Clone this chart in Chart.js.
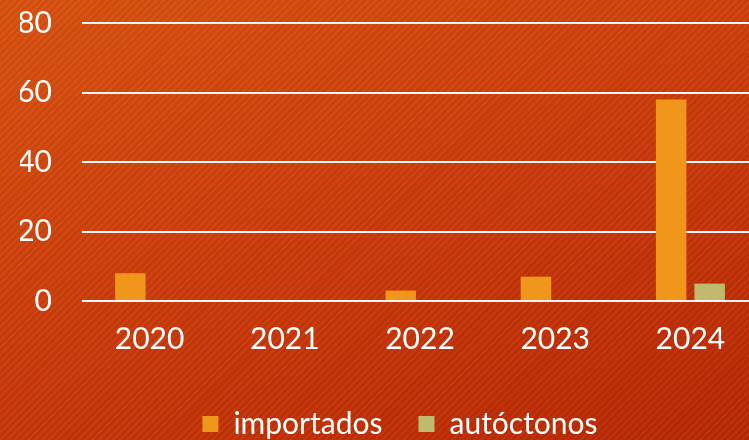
<!DOCTYPE html>
<html><head><meta charset="utf-8">
<script src="https://cdn.jsdelivr.net/npm/chart.js@4"></script>
<style>
html,body{margin:0;padding:0;width:749px;height:440px;overflow:hidden;}
body{background:
 repeating-linear-gradient(135deg, rgba(255,255,255,0.035) 0px, rgba(255,255,255,0.035) 2px, rgba(0,0,0,0.03) 2px, rgba(0,0,0,0.03) 5px),
 linear-gradient(160deg, #d9520f 0%, #c9390a 55%, #b82804 100%);}
#wrap{position:absolute;left:0;top:-25px;width:800px;height:474px;}
</style></head>
<body>
<div id="wrap"><canvas id="c"></canvas></div>
<script>
const categories = ['2020','2021','2022','2023','2024'];
const importados = [8, 0, 3, 7, 58];
const autoctonos = [0, 0, 0, 0, 5];
const yTicks = [0, 20, 40, 60, 80];

Chart.defaults.font.family = 'Lato, "Open Sans", sans-serif';
Chart.defaults.color = '#ffffff';

new Chart(document.getElementById('c'), {
  type: 'bar',
  data: {
    labels: categories,
    datasets: [
      { label: 'importados', data: importados, backgroundColor: '#f0961a', borderWidth: 0,
        categoryPercentage: 0.57, barPercentage: 0.79 },
      { label: 'autóctonos', data: autoctonos, backgroundColor: '#bfba6e', borderWidth: 0,
        categoryPercentage: 0.57, barPercentage: 0.79 }
    ]
  },
  options: {
    responsive: true,
    maintainAspectRatio: false,
    animation: false,
    layout: { padding: { left: 20, right: 20, top: 0, bottom: 0 } },
    plugins: {
      tooltip: { enabled: false },
      title: { display: false },
      legend: {
        position: 'bottom',
        align: 'center',
        labels: {
          color: '#ffffff',
          font: { size: 30 },
          boxWidth: 16, boxHeight: 16,
          padding: 36
        }
      }
    },
    scales: {
      x: {
        grid: { display: false, drawTicks: false },
        border: { display: false },
        ticks: { color: '#ffffff', font: { size: 30 }, padding: 20 },
        afterFit: (s) => { s.height = 72; }
      },
      y: {
        min: 0, max: 80,
        afterBuildTicks: (s) => { s.ticks = yTicks.map(v => ({ value: v })); },
        grid: { color: 'rgba(255,255,255,0.95)', lineWidth: 2, drawTicks: false },
        border: { display: false },
        ticks: { color: '#ffffff', font: { size: 30 }, padding: 30 },
        afterFit: (s) => { s.width = 62; }
      },
      yPad: {
        position: 'right',
        display: true,
        min: 0, max: 1,
        grid: { display: false, drawTicks: false },
        border: { display: false },
        ticks: { display: false },
        afterFit: (s) => { s.width = 22; }
      }
    }
  }
});
</script>
</body></html>
